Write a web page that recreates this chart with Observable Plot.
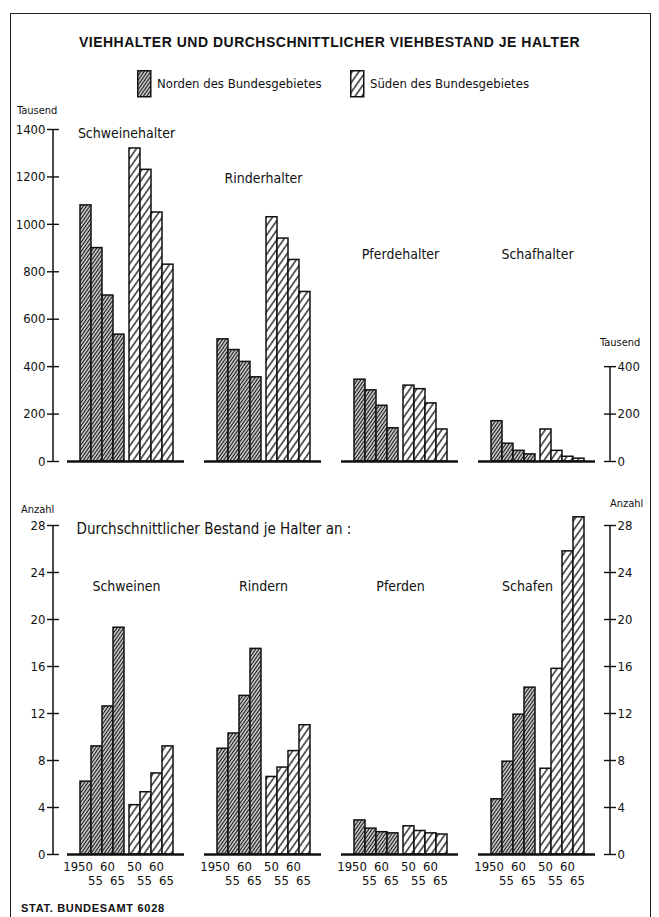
<!DOCTYPE html>
<html>
<head>
<meta charset="utf-8">
<script src="https://cdn.jsdelivr.net/npm/d3@7"></script>
<script src="https://cdn.jsdelivr.net/npm/@observablehq/plot@0.6"></script>
<style>
  body { margin: 0; background: #fff; }
  #page { position: relative; width: 659px; height: 917px; overflow: hidden; background: #fff; color: #111;
          font-family: "Liberation Sans Narrow", "DejaVu Sans Condensed", "Liberation Sans", sans-serif; }
  #border { position: absolute; left: 10px; top: 13px; width: 639px; height: 960px; border: 1.5px solid #222; }
  .abs { position: absolute; white-space: nowrap; line-height: 1; }
  #title { left: 0; width: 659px; top: 35px; text-align: center; font-family: "Liberation Sans", Arial, sans-serif;
           font-weight: bold; font-size: 14px; letter-spacing: 0.5px; }
  .legtext { font-size: 13px; top: 77px; }
  .unit { font-size: 11px; }
  #footer { left: 21px; top: 903px; font-family: "Liberation Sans", Arial, sans-serif; font-weight: bold; font-size: 11px; letter-spacing: 0.7px; }
  svg.chart { position: absolute; left: 0; }
</style>
</head>
<body>
<svg width="0" height="0" style="position:absolute">
  <defs>
    <pattern id="hatchN" width="2.7" height="2.7" patternUnits="userSpaceOnUse" patternTransform="rotate(35)">
      <rect width="2.7" height="2.7" fill="#fff"></rect>
      <line x1="1.35" y1="0" x2="1.35" y2="2.7" stroke="#111" stroke-width="1.4"></line>
    </pattern>
    <pattern id="hatchS" width="5.5" height="5.5" patternUnits="userSpaceOnUse" patternTransform="rotate(35)">
      <rect width="5.5" height="5.5" fill="#fff"></rect>
      <line x1="2.75" y1="0" x2="2.75" y2="5.5" stroke="#111" stroke-width="1.3"></line>
    </pattern>
  </defs>
</svg>
<div id="page">
  <div id="border"></div>
  <div id="title" class="abs">VIEHHALTER UND DURCHSCHNITTLICHER VIEHBESTAND JE HALTER</div>
  <svg class="abs" style="left:137px;top:70px" width="15" height="28"><rect x="0.75" y="0.75" width="13" height="26" fill="url(#hatchN)" stroke="#111" stroke-width="1.5"></rect></svg>
  <div class="abs legtext" id="legN" style="left:157px"></div>
  <svg class="abs" style="left:350px;top:70px" width="15" height="28"><rect x="0.75" y="0.75" width="13" height="26" fill="url(#hatchS)" stroke="#111" stroke-width="1.5"></rect></svg>
  <div class="abs legtext" id="legS" style="left:370px"></div>
  <div class="abs unit" style="left:17px;top:105px">Tausend</div>
  <div class="abs unit" style="left:600px;top:337px">Tausend</div>
  <div class="abs unit" style="left:21px;top:504px">Anzahl</div>
  <div class="abs unit" style="left:610px;top:498px">Anzahl</div>
  <div id="footer" class="abs">STAT. BUNDESAMT 6028</div>
</div>
<script>
// ---------- data ----------
const years = [1950, 1955, 1960, 1965];
const regions = ["Norden des Bundesgebietes", "Süden des Bundesgebietes"];
const topGroups = ["Schweinehalter", "Rinderhalter", "Pferdehalter", "Schafhalter"];
const bottomGroups = ["Schweinen", "Rindern", "Pferden", "Schafen"];
const bottomHeading = "Durchschnittlicher Bestand je Halter an :";

// Viehhalter (Tausend)
const schweinehalterNord = [1080, 900, 700, 535];
const schweinehalterSued = [1320, 1230, 1050, 830];
const rinderhalterNord = [515, 470, 420, 355];
const rinderhalterSued = [1030, 940, 850, 715];
const pferdehalterNord = [345, 300, 235, 140];
const pferdehalterSued = [320, 305, 245, 135];
const schafhalterNord = [170, 75, 45, 30];
const schafhalterSued = [135, 45, 20, 12];

// Durchschnittlicher Bestand je Halter (Anzahl)
const schweineNord = [6.2, 9.2, 12.6, 19.3];
const schweineSued = [4.2, 5.3, 6.9, 9.2];
const rinderNord = [9.0, 10.3, 13.5, 17.5];
const rinderSued = [6.6, 7.4, 8.8, 11.0];
const pferdeNord = [2.9, 2.2, 1.9, 1.8];
const pferdeSued = [2.4, 2.0, 1.8, 1.7];
const schafeNord = [4.7, 7.9, 11.9, 14.2];
const schafeSued = [7.3, 15.8, 25.8, 28.7];

// tick labels
const yearLabelsNord = ["1950", "55", "60", "65"];
const yearLabelsSued = ["50", "55", "60", "65"];
const topTicksLeft = [0, 200, 400, 600, 800, 1000, 1200, 1400];
const topTicksRight = [0, 200, 400];
const bottomTicks = [0, 4, 8, 12, 16, 20, 24, 28];

// ---------- layout (not data) ----------
const FONT = '"Liberation Sans Narrow", "DejaVu Sans Condensed", "Liberation Sans", sans-serif';
const L = {
  width: 659, marginLeft: 75, marginRight: 70, facetW: 101, fxPad: 0.2665, gapNS: 5,
  axisLeftOff: 23, axisRightOff: 22,
  topLabelY: [1385, 1195, 872, 872],
  bottomLabelY: [22.8, 22.8, 22.8, 22.8],
  bottomLabelDx: [0, 0, 0, -10],
  headingY: 27.7
};

document.getElementById("legN").textContent = regions[0];
document.getElementById("legS").textContent = regions[1];

function buildRows(groups, nord, sued) {
  const out = [];
  groups.forEach((g, gi) => {
    years.forEach((y, yi) => {
      out.push({group: g, region: "N", key: "N" + y, yi, value: nord[gi][yi], label: yearLabelsNord[yi]});
      out.push({group: g, region: "S", key: "S" + y, yi, value: sued[gi][yi], label: yearLabelsSued[yi]});
    });
  });
  return out;
}
const slotKeys = [...years.map(y => "N" + y), ...years.map(y => "S" + y)];

const topRows = buildRows(topGroups,
  [schweinehalterNord, rinderhalterNord, pferdehalterNord, schafhalterNord],
  [schweinehalterSued, rinderhalterSued, pferdehalterSued, schafhalterSued]);
const bottomRows = buildRows(bottomGroups,
  [schweineNord, rinderNord, pferdeNord, schafeNord],
  [schweineSued, rinderSued, pferdeSued, schafeSued]);

function chart({rows, groups, yMax, ticksLeft, ticksRight, rightAxisMax, labelY, labelDx, height, marginTop, marginBottom, xLabels, heading}) {
  const N = rows.filter(d => d.region === "N");
  const S = rows.filter(d => d.region === "S");
  const marks = [
    Plot.barY(N, {fx: "group", x: "key", y: "value", fill: "url(#hatchN)", stroke: "#111", strokeWidth: 1.5}),
    Plot.barY(S, {fx: "group", x: "key", y: "value", dx: L.gapNS, fill: "url(#hatchS)", stroke: "#111", strokeWidth: 1.5}),
    Plot.ruleY([0], {insetLeft: -9, insetRight: -8, strokeWidth: 2.5, stroke: "#111"}),
    Plot.ruleX([0], {x: null, y1: 0, y2: yMax, facetAnchor: "left", dx: -(L.facetW / 2 + L.axisLeftOff), stroke: "#111", strokeWidth: 1.5}),
    Plot.ruleX([0], {x: null, y1: 0, y2: rightAxisMax, facetAnchor: "right", dx: L.facetW / 2 + L.axisRightOff, stroke: "#111", strokeWidth: 1.5}),
    Plot.axisY({anchor: "left", ticks: ticksLeft, tickFormat: d => String(d), tickSize: 12, tickPadding: 2, dx: -(L.axisLeftOff - 6), label: null, strokeWidth: 1.4, stroke: "#111", fontSize: 13}),
    Plot.axisY({anchor: "right", ticks: ticksRight, tickFormat: d => String(d), tickSize: 12, tickPadding: 2, dx: L.axisRightOff - 6, label: null, strokeWidth: 1.4, stroke: "#111", fontSize: 13}),
    ...groups.map((g, i) => Plot.text([g], {fx: d => d, y: () => labelY[i], dx: labelDx ? labelDx[i] : 0, text: d => d, fontSize: 14}))
  ];
  if (heading) {
    marks.push(Plot.text([heading], {fx: () => groups[0], y: () => L.headingY, frameAnchor: "left", textAnchor: "start", text: d => d, fontSize: 15}));
  }
  if (xLabels) {
    const row1 = d => d.yi % 2 === 0, row2 = d => d.yi % 2 === 1;
    const common = {fx: "group", x: "key", text: "label", frameAnchor: "bottom", lineAnchor: "top", textAnchor: "end", fontSize: 13};
    marks.push(
      Plot.text(N.filter(row1), {...common, dy: 7, dx: 7}),
      Plot.text(N.filter(row2), {...common, dy: 21, dx: 6}),
      Plot.text(S.filter(row1), {...common, dy: 7, dx: 7 + L.gapNS}),
      Plot.text(S.filter(row2), {...common, dy: 21, dx: 6 + L.gapNS})
    );
  }
  return Plot.plot({
    width: L.width, height, marginTop, marginBottom, marginLeft: L.marginLeft, marginRight: L.marginRight,
    style: {fontFamily: FONT, fontSize: "13px", background: "transparent", color: "#111", overflow: "visible"},
    fx: {domain: groups, paddingInner: L.fxPad, paddingOuter: 0, axis: null},
    x: {domain: slotKeys, padding: 0, insetRight: L.gapNS, axis: null},
    y: {domain: [0, yMax], axis: null},
    marks
  });
}

const topChart = chart({rows: topRows, groups: topGroups, yMax: 1400, ticksLeft: topTicksLeft, ticksRight: topTicksRight,
  rightAxisMax: 400, labelY: L.topLabelY, height: 373, marginTop: 29, marginBottom: 12, xLabels: false});
topChart.classList.add("chart");
topChart.style.top = "100px";

const bottomChart = chart({rows: bottomRows, groups: bottomGroups, yMax: 28, ticksLeft: bottomTicks, ticksRight: bottomTicks,
  rightAxisMax: 28, labelY: L.bottomLabelY, labelDx: L.bottomLabelDx, height: 409, marginTop: 35, marginBottom: 45, xLabels: true, heading: bottomHeading});
bottomChart.classList.add("chart");
bottomChart.style.top = "490px";

const page = document.getElementById("page");
page.insertBefore(bottomChart, document.getElementById("footer"));
page.insertBefore(topChart, bottomChart);
</script>
</body>
</html>
